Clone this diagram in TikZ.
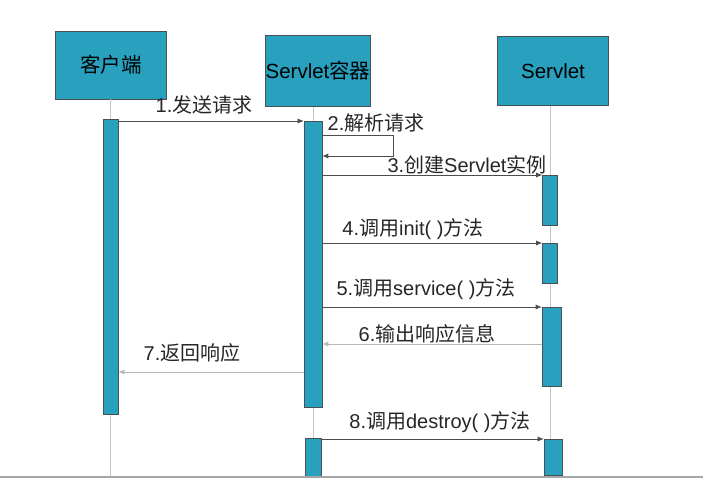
\documentclass[tikz,border=0pt]{standalone}
\usepackage{fontspec}
\setmainfont{Liberation Sans}
\newfontfamily\cjk{Noto Sans CJK SC}
\newcommand{\zh}[1]{{\cjk #1}}
\usepackage{xcolor}
\usetikzlibrary{arrows.meta,positioning,calc}

\definecolor{barblue}{RGB}{40,160,190}
\definecolor{edgegray}{RGB}{70,80,85}

\tikzset{
  head/.style={draw=edgegray, line width=0.8pt, fill=barblue, inner sep=0pt, font=\fontsize{20.5}{22}\selectfont},
  bar/.style={draw=edgegray, line width=0.6pt, fill=barblue, inner sep=0pt, anchor=north},
  life/.style={draw=gray!45, line width=0.6pt},
  msg/.style={draw=black!70, line width=0.7pt, -{Latex[length=6pt,width=5pt]}},
  ret/.style={draw=gray!55, line width=0.7pt, -{Latex[length=6pt,width=5pt]}},
  lbl/.style={font=\fontsize{20}{22}\selectfont, text=black!85, inner sep=0pt}
}

\begin{document}
\begin{tikzpicture}[x=1pt,y=-1pt]
\useasboundingbox (0,0) rectangle (703,489);
% heads
\node[head, minimum width=111pt, minimum height=68pt] (client) at (111,65) {\zh{客户端}};
\node[head, minimum width=103pt, minimum height=71pt] (container) at (318,71) {Servlet\zh{容器}};
\node[head, minimum width=111pt, minimum height=69pt] (servlet) at (553,71) {Servlet};

% activation bars
\node[bar, minimum width=15pt, minimum height=295pt] (cbar) at (110.5,119) {};
\node[bar, minimum width=18pt, minimum height=286pt] (kbar1) at (313,121) {};
\node[bar, minimum width=16pt, minimum height=38pt] (kbar2) at (313,438) {};
\node[bar, minimum width=15pt, minimum height=50pt] (sbar1) at (550,175) {};
\node[bar, minimum width=15pt, minimum height=40pt] (sbar2) at (550,243) {};
\node[bar, minimum width=19pt, minimum height=79pt] (sbar3) at (551.5,307) {};
\node[bar, minimum width=18pt, minimum height=36pt] (sbar4) at (553,439) {};

% floor
\coordinate (fl) at (0,477);
\coordinate (fr) at (703,477);

% lifelines
\draw[life] (client.south -| cbar) -- (cbar.north);
\draw[life] (cbar.south) -- (cbar |- fl);
\draw[life] (container.south -| kbar1) -- (kbar1.north);
\draw[life] (kbar1.south) -- (kbar2.north);
\draw[life] (servlet.south -| sbar1) -- (sbar1.north);
\draw[life] (sbar1.south) -- (sbar2.north);
\draw[life] (sbar2.south) -- (sbar3.north -| sbar2);
\draw[life] (sbar3.south -| sbar2) -- (sbar4.north -| sbar2);
\draw[life] (sbar4.south -| sbar2) -- (fl -| sbar2);

\draw[gray!70, line width=2.5pt] (fl) -- (fr);

% messages
\coordinate (s2a) at (393,135);
\coordinate (s2b) at (393,156);
\coordinate (r6) at (0,344);
\coordinate (r7) at (0,372);
\draw[msg] (cbar.east |- kbar1.north) -- (kbar1.north west);
\draw[msg] (kbar1.east |- s2a) -- (s2a) -- (s2b) -- (kbar1.east |- s2b);
\draw[msg] (kbar1.east |- sbar1.north) -- (sbar1.north west);
\draw[msg] (kbar1.east |- sbar2.north) -- (sbar2.north west);
\draw[msg] (kbar1.east |- sbar3.north) -- (sbar3.north west);
\draw[ret] (sbar3.west |- r6) -- (kbar1.east |- r6);
\draw[ret] (kbar1.west |- r7) -- (cbar.east |- r7);
\draw[msg] (kbar2.east |- sbar4.north) -- (sbar4.north west);

% labels
\node[lbl] (l1) at (204,105) {1.\zh{发送请求}};
\node[lbl] (l2) at (376,123) {2.\zh{解析请求}};
\node[lbl] (l3) at (467,165) {3.\zh{创建}Servlet\zh{实例}};
\node[lbl] (l4) at (413,229) {4.\zh{调用}init( )\zh{方法}};
\node[lbl] (l5) at (426,289) {5.\zh{调用}service( )\zh{方法}};
\node[lbl] (l6) at (427,334) {6.\zh{输出响应信息}};
\node[lbl] (l7) at (192,353) {7.\zh{返回响应}};
\node[lbl] (l8) at (440,422) {8.\zh{调用}destroy( )\zh{方法}};
\end{tikzpicture}
\end{document}
